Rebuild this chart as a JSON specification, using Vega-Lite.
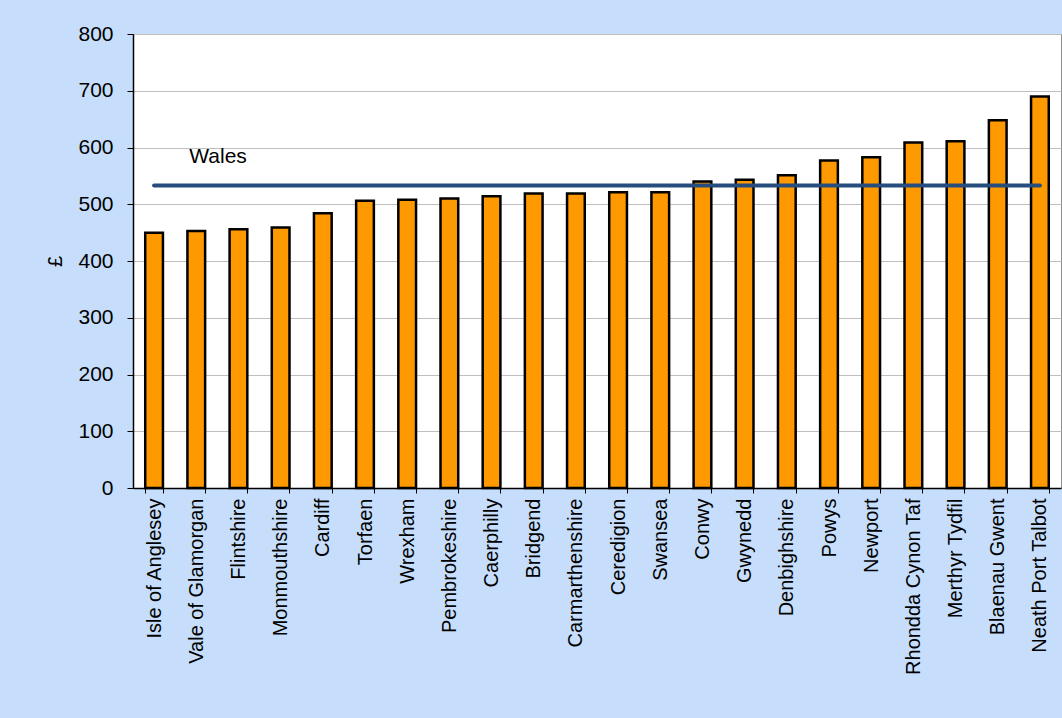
{
  "$schema": "https://vega.github.io/schema/vega-lite/v6.json",
  "width": 928,
  "height": 454,
  "autosize": {"type": "none"},
  "padding": {"left": 133, "top": 34, "right": 1, "bottom": 230},
  "background": "#C6DEFB",
  "config": {
    "font": "Liberation Sans",
    "view": {"fill": "white", "stroke": "#8C8C8C", "strokeWidth": 1}
  },
  "data": {
    "values": [
      {"area": "Isle of Anglesey", "cost": 450, "wales": 533},
      {"area": "Vale of Glamorgan", "cost": 453, "wales": 533},
      {"area": "Flintshire", "cost": 456, "wales": 533},
      {"area": "Monmouthshire", "cost": 459, "wales": 533},
      {"area": "Cardiff", "cost": 484, "wales": 533},
      {"area": "Torfaen", "cost": 506, "wales": 533},
      {"area": "Wrexham", "cost": 508, "wales": 533},
      {"area": "Pembrokeshire", "cost": 510, "wales": 533},
      {"area": "Caerphilly", "cost": 514, "wales": 533},
      {"area": "Bridgend", "cost": 519, "wales": 533},
      {"area": "Carmarthenshire", "cost": 519, "wales": 533},
      {"area": "Ceredigion", "cost": 521, "wales": 533},
      {"area": "Swansea", "cost": 521, "wales": 533},
      {"area": "Conwy", "cost": 540, "wales": 533},
      {"area": "Gwynedd", "cost": 543, "wales": 533},
      {"area": "Denbighshire", "cost": 551, "wales": 533},
      {"area": "Powys", "cost": 577, "wales": 533},
      {"area": "Newport", "cost": 583, "wales": 533},
      {"area": "Rhondda Cynon Taf", "cost": 609, "wales": 533},
      {"area": "Merthyr Tydfil", "cost": 611, "wales": 533},
      {"area": "Blaenau Gwent", "cost": 648, "wales": 533},
      {"area": "Neath Port Talbot", "cost": 690, "wales": 533}
    ]
  },
  "encoding": {
    "x": {
      "field": "area",
      "type": "nominal",
      "sort": null,
      "scale": {"paddingInner": 0.58, "paddingOuter": 0.29},
      "axis": {
        "title": null,
        "labelAngle": -90,
        "labelFontSize": 20,
        "labelColor": "black",
        "labelPadding": 5,
        "labelLimit": 400,
        "tickBand": "extent",
        "tickSize": 5,
        "tickColor": "black",
        "domainColor": "black",
        "domainWidth": 1.5
      }
    }
  },
  "layer": [
    {
      "mark": {"type": "bar", "fill": "#FF9900", "stroke": "black", "strokeWidth": 2.5},
      "encoding": {
        "y": {
          "field": "cost",
          "type": "quantitative",
          "scale": {"domain": [0, 800]},
          "axis": {
            "title": "£",
            "titleFontSize": 20,
            "titleFontWeight": "normal",
            "titleColor": "black",
            "titlePadding": 12,
            "values": [0, 100, 200, 300, 400, 500, 600, 700, 800],
            "labelFontSize": 21,
            "labelColor": "black",
            "labelPadding": 14,
            "tickSize": 6,
            "tickColor": "black",
            "domainColor": "black",
            "domainWidth": 1.5,
            "grid": true,
            "gridColor": "#BFBFBF",
            "gridWidth": 1
          }
        }
      }
    },
    {
      "mark": {"type": "line", "color": "#264D7E", "strokeWidth": 4, "strokeCap": "round"},
      "encoding": {
        "y": {"field": "wales", "type": "quantitative"}
      }
    },
    {
      "transform": [{"filter": "datum.area === 'Vale of Glamorgan'"}],
      "mark": {"type": "text", "align": "left", "baseline": "middle", "dx": -7, "fontSize": 21, "color": "black"},
      "encoding": {
        "y": {"datum": 584, "type": "quantitative"},
        "text": {"value": "Wales"}
      }
    }
  ]
}
